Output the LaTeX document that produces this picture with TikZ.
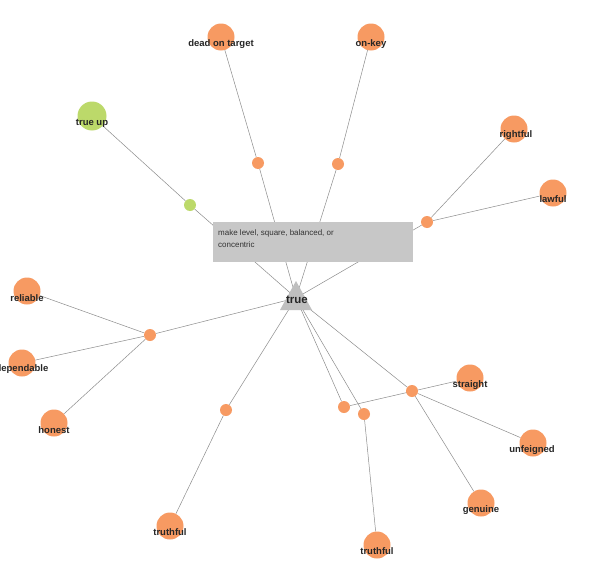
\documentclass[tikz,border=0pt]{standalone}
\usepackage{fontspec}
\setmainfont{Liberation Sans}
\begin{document}
\begin{tikzpicture}[x=1pt,y=-1pt,
  sm/.style={circle,minimum size=12pt,inner sep=0pt},
  big/.style={circle,minimum size=27pt,inner sep=0pt},
  lab/.style={font=\bfseries\fontsize{9.5}{10}\selectfont,text=black!85},
  ln/.style={draw=black!45,line width=0.5pt}]
\definecolor{nor}{HTML}{F79A62}\definecolor{grn}{HTML}{BCD96A}
\path[use as bounding box,clip] (0,0) rectangle (614,573);
\fill[white] (0,0) rectangle (614,573);
\coordinate (c) at (296,298);
\foreach \n/\x/\y in {s1/258/163,s2/338/164,s3/427/222,s4/150/335,s5/226/410,s6/344/407,s7/364/414,s8/412/391}
  \node[sm] (\n) at (\x,\y) {};
\node[sm] (g) at (190,205) {};
\foreach \n/\x/\y in {b1/221/37,b2/371/37,b3/514/129,b4/553/193,b5/27/291,b6/22/363,b7/54/423,b8/170/526,b9/377/545,b10/481/503,b11/533/443,b12/470/378}
  \node[big] (\n) at (\x,\y) {};
\node[big,minimum size=29pt] (gu) at (92,116) {};
\foreach \a/\b in {c/s1,c/s2,c/s3,c/s4,c/s5,c/s6,c/s7,c/s8,c/g,s1/b1,s2/b2,s3/b3,s3/b4,s4/b5,s4/b6,s4/b7,s5/b8,s7/b9,s8/b10,s8/b11,s6/b12,g/gu}
  \draw[ln] (\a) -- (\b);
\foreach \n in {s1,s2,s3,s4,s5,s6,s7,s8}\fill[nor] (\n) circle (6);
\fill[grn] (g) circle (6);
\foreach \n in {b1,b2,b3,b4,b5,b6,b7,b8,b9,b10,b11,b12}\fill[nor] (\n) circle (13.5);
\fill[grn] (gu) circle (14.5);
\node[lab] at (221,44) {dead on target};
\node[lab] at (371,44) {on-key};
\node[lab] at (516,135) {rightful};
\node[lab] at (553,199) {lawful};
\node[lab] at (27,298) {reliable};
\node[lab] at (22,369) {dependable};
\node[lab] at (54,430) {honest};
\node[lab] at (170,532) {truthful};
\node[lab] at (377,551) {truthful};
\node[lab] at (481,510) {genuine};
\node[lab] at (532,450) {unfeigned};
\node[lab] at (470,385) {straight};
\node[lab] at (92,123) {true up};
\fill[black!25] (296,281) -- (312,310) -- (280,310) -- cycle;
\node[font=\bfseries\fontsize{11.5}{12}\selectfont,text=black!85] at (297,300) {true};
\node[fill=black!22,minimum width=200pt,minimum height=40pt,anchor=north west,inner sep=0pt] (tt) at (213,222) {};
\node[anchor=north west,align=left,font=\fontsize{8}{13}\selectfont,text=black!80,inner sep=0pt] at (218,229) {make level, square, balanced, or\\concentric};
\end{tikzpicture}
\end{document}
